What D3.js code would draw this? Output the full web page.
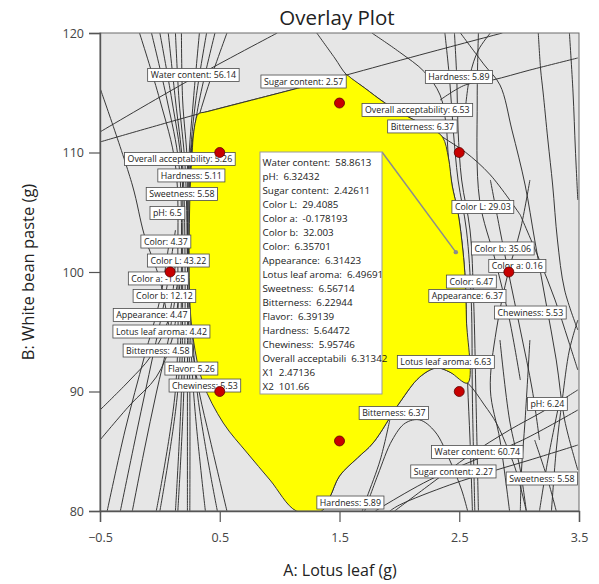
<!DOCTYPE html>
<html>
<head>
<meta charset="utf-8">
<script src="https://cdn.jsdelivr.net/npm/d3@7"></script>
<style>
  body { margin: 0; background: #fff; }
  svg { display: block; font-family: "Open Sans", "Noto Sans", sans-serif; }
</style>
</head>
<body>
<svg id="chart" width="599" height="584"></svg>
<script>
// ---- axis ticks ----
const xTicks = [-0.5, 0.5, 1.5, 2.5, 3.5];
const yTicks = [80, 90, 100, 110, 120];

// ---- design points (A: lotus leaf, B: white bean paste) ----
const designA = [0.5, 2.5, 0.5, 2.5, 0.0858, 2.9142, 1.5, 1.5, 1.5];
const designB = [90, 90, 110, 110, 100, 100, 85.86, 114.14, 100];

// ---- feasible (sweet spot) region outline, [A, B] ----
const sweetSpot = [
  [0.32,113.22],[0.40,113.43],[1.19,115.48],[1.52,116.38],[1.56,116.49],[1.60,116.2],[1.71,115.40],
  [1.88,114.14],[2.09,112.89],[2.26,112.05],
  [2.36,111.30],[2.41,109.54],[2.44,107.28],[2.49,104.94],[2.53,101.84],[2.55,99.33],
  [2.56,95.98],[2.57,90.71],[2.42,91.63],[2.31,91.97],[2.17,91.21],[2.00,89.04],
  [1.78,85.69],[1.65,84.44],[1.50,82.93],[1.42,81.17],[1.35,80],[1.14,80],
  [0.92,82.59],[0.73,84.85],[0.53,87.36],[0.36,90.71],[0.28,94.31],[0.25,97.66],
  [0.25,106.03],[0.27,110.04],[0.28,111.46],[0.30,112.7]
];

// ---- response contour traces, [A, B] ----
const contours = [
  [[-0.17,120],[0,114.39],[0.13,108.95],[0.15,101.0],[0.13,90.13],[-0.03,80]],
  [[-0.07,120],[0.06,114.39],[0.16,108.95],[0.18,101.0],[0.15,90.13],[0,80]],
  [[0,120],[0.10,114.39],[0.18,108.95],[0.19,101.0],[0.18,90.13],[0.13,80]],
  [[0.07,120],[0.13,114.39],[0.19,108.95],[0.21,101.0],[0.20,90.13],[0.15,80]],
  [[0.13,120],[0.16,114.39],[0.21,108.95],[0.23,101.0],[0.23,90.13],[0.23,80]],
  [[0.18,120],[0.19,114.39],[0.23,108.95],[0.23,101.0],[0.25,90.13],[0.25,80]],
  [[0.33,120],[0.28,114.39],[0.24,108.95],[0.24,101.0],[0.28,90.13],[0.38,80]],
  [[0.39,120],[0.30,114.39],[0.25,108.95],[0.25,101.0],[0.31,90.13],[0.48,80]],
  [[0.56,120],[0.38,114.81],[0.27,110.63],[0.25,106.03]],
  [[0.46,120],[0.33,114.39],[0.26,110.21]],
  [[0.56,80],[0.42,85.94],[0.33,89.87],[0.28,93.0]],
  [[-0.5,88.45],[-0.25,90.96],[-0.08,92.89],[0.07,95.98],[0.13,101.0]],
  [[-0.5,85.94],[-0.25,88.87],[-0.03,91.21],[0.10,94.31],[0.17,99.33]],
  [[-0.44,80],[-0.29,86.78],[-0.13,92.89],[0,97.66],[0.08,102.68]],
  [[-0.33,80],[-0.19,86.78],[-0.06,92.89],[0.04,97.66],[0.13,103.51]],
  [[-0.23,80],[-0.13,85.10],[-0.03,89.87],[0.07,94.31],[0.15,99.33]],
  [[-0.5,115.40],[-0.23,107.28],[-0.13,103.10],[0,99.33],[0.08,95.15]],
  [[-0.5,111.72],[0.25,116.07],[0.98,120]],
  [[-0.5,110.88],[0.32,113.22],[1.19,115.48],[1.56,116.49],[2.17,118.16],[2.86,120]],
  [[1.31,120],[1.46,117.91],[1.56,116.49],[1.71,115.40],[1.88,114.14],[2.09,112.89],
   [2.26,112.05],[2.36,111.30],[2.55,110.04],[2.76,108.12],[3.01,104.77]],
  [[1.77,120],[2.00,118.41],[2.21,116.74],[2.34,114.81],[2.39,112.30],[2.41,109.54],
   [2.44,107.28],[2.49,104.94],[2.53,101.84],[2.55,99.33],[2.56,95.98],[2.57,90.71],
   [2.59,85.94],[2.61,80]],
  [[2.46,120],[2.48,116.07],[2.49,111.88],[2.52,107.70],[2.59,103.51],[2.62,97.66],[2.64,89.29],[2.66,80]],
  [[2.38,120],[2.42,116.07],[2.45,111.88],[2.49,107.70],[2.56,103.51],[2.60,97.66],[2.61,89.29],[2.63,80]],
  [[2.66,120],[2.65,114.39],[2.67,106.03],[2.80,101.0],[2.92,95.98],[3.01,90.96]],
  [[2.51,120],[2.71,117.32],[2.84,115.65],[2.94,111.88],[3.05,107.28],[3.13,102.68],
   [3.22,97.66],[3.31,92.64],[3.38,87.62],[3.49,83.43]],
  [[2.76,120],[2.66,118.58],[2.59,116.49],[2.55,113.56]],
  [[2.34,114.39],[2.55,115.65],[2.78,116.07],[3.09,116.90],[3.49,117.91]],
  [[3.16,120],[3.18,116.90],[3.20,115.06],[3.24,111.05],[3.28,107.28],[3.32,102.68],[3.38,98.49],[3.49,95.15]],
  [[3.42,120],[3.45,115.06],[3.47,110.21],[3.49,106.03]],
  [[2.76,107.70],[2.84,103.51],[2.91,100.0],[3.01,95.15],[3.11,90.13],[3.17,85.94]],
  [[3.09,107.70],[3.01,103.51],[2.91,100.0],[2.81,95.15],[2.76,90.13],[2.84,85.94],[2.92,80]],
  [[3.01,104.77],[3.17,101.0],[3.30,97.66],[3.41,94.31],[3.49,91.80]],
  [[3.49,95.98],[3.42,93.47],[3.36,89.29],[3.31,85.10],[3.27,80]],
  [[1.35,80],[1.42,81.17],[1.50,82.93],[1.65,84.44],[1.78,85.69],[2.00,89.04],[2.17,91.21],
   [2.31,91.97],[2.42,91.63],[2.57,90.71],[2.71,88.87],[2.81,87.36],[2.91,85.10],[2.98,83.18],[3.06,80]],
  [[1.71,80],[1.82,83.01],[1.94,85.94],[2.05,87.36],[2.17,87.62],[2.30,86.61],[2.42,84.27],[2.52,81.76],[2.57,80]],
  [[3.49,88.45],[3.03,85.94],[2.67,84.44],[2.25,82.59],[1.88,80.50],[1.80,80]],
  [[3.49,85.52],[3.09,84.27],[2.81,83.43],[2.42,82.18],[2.00,80.50],[1.92,80]],
  [[3.49,90.13],[3.22,88.45],[2.92,86.78],[2.59,84.69],[2.25,82.18],[1.96,80]],
  [[1.92,87.62],[1.84,84.27],[1.73,81.17],[1.69,80]],
  [[2.84,94.31],[2.92,87.62],[3.01,83.43],[3.06,80]],
  [[3.09,94.31],[3.05,87.62],[3.02,83.43],[3.01,80]],
  [[3.34,89.29],[3.24,84.27],[3.17,80]],
  [[3.13,85.94],[3.24,82.59],[3.31,80]]
];

// ---- contour labels ----
const labelNames = [
  "Water content","Sugar content","Overall acceptability","Hardness","Sweetness","pH",
  "Color","Color L","Color a","Color b","Appearance","Lotus leaf aroma","Bitterness",
  "Flavor","Chewiness","Hardness","Overall acceptability","Bitterness","Color L","Color b",
  "Color a","Color","Appearance","Chewiness","Lotus leaf aroma","pH","Bitterness",
  "Water content","Sugar content","Sweetness","Hardness"
];
const labelValues = [
  "56.14","2.57","5.26","5.11","5.58","6.5","4.37","43.22","-1.65","12.12","4.47","4.42",
  "4.58","5.26","5.53","5.89","6.53","6.37","29.03","35.06","0.16","6.47","6.37","5.53",
  "6.63","6.24","6.37","60.74","2.27","5.58","5.89"
];
const labelA = [
  0.28,1.20,0.167,0.263,0.184,0.063,0.05,0.154,-0.013,0.038,-0.067,0.013,-0.017,0.263,0.376,
  2.497,2.150,2.192,2.697,2.864,2.985,2.601,2.568,3.094,2.388,3.236,1.954,2.651,2.451,3.190,1.591
];
const labelB = [
  116.49,115.94,109.46,108.08,106.53,104.94,102.55,100.96,99.46,97.99,96.40,95.02,93.43,91.92,90.50,
  116.32,113.56,112.18,105.44,101.97,100.50,99.20,97.99,96.61,92.47,88.95,88.20,84.94,83.31,82.72,80.71
];

// ---- flag readout at the selected point ----
const flagNames = [
  "Water content:","pH:","Sugar content:","Color L:","Color a:","Color b:","Color:",
  "Appearance:","Lotus leaf aroma:","Sweetness:","Bitterness:","Flavor:","Hardness:",
  "Chewiness:","Overall acceptabili","X1","X2"
];
const flagValues = [
  "58.8613","6.32432","2.42611","29.4085","-0.178193","32.003","6.35701","6.31423",
  "6.49691","6.56714","6.22944","6.39139","5.64472","5.95746","6.31342","2.47136","101.66"
];
const flagA = 2.47136, flagB = 101.66;

// ---- layout ----
const plotLeft = 100, plotRight = 579, plotTop = 33, plotBottom = 511;

const svg = d3.select("#chart");
const x = d3.scaleLinear().domain([-0.5, 3.5]).range([plotLeft, plotRight]);
const y = d3.scaleLinear().domain([80, 120]).range([plotBottom, plotTop]);

// clip to the plotting area
svg.append("defs").append("clipPath").attr("id", "plotClip")
  .append("rect").attr("x", plotLeft).attr("y", plotTop)
  .attr("width", plotRight - plotLeft).attr("height", plotBottom - plotTop);

// grey background (infeasible area)
svg.append("rect").attr("x", plotLeft).attr("y", plotTop)
  .attr("width", plotRight - plotLeft).attr("height", plotBottom - plotTop)
  .attr("fill", "#e6e6e6");

const plot = svg.append("g").attr("clip-path", "url(#plotClip)");

const line = d3.line().x(d => x(d[0])).y(d => y(d[1])).curve(d3.curveCatmullRom.alpha(0.5));

// contour lines
plot.append("g").selectAll("path").data(contours).join("path")
  .attr("d", line)
  .attr("fill", "none")
  .attr("stroke", "#2e2e2e")
  .attr("stroke-width", 0.95);

// yellow sweet-spot region
const area = d3.line().x(d => x(d[0])).y(d => y(d[1])).curve(d3.curveCatmullRomClosed.alpha(0.5));
plot.append("path").datum(sweetSpot)
  .attr("d", area)
  .attr("fill", "#ffff00")
  .attr("stroke", "#2e2e2e")
  .attr("stroke-width", 0.95);

// contour labels
const lbl = plot.append("g").attr("font-size", 8.8).attr("fill", "#1a1a1a");
labelNames.forEach((name, i) => {
  const g = lbl.append("g");
  const t = g.append("text")
    .attr("x", x(labelA[i])).attr("y", y(labelB[i]) + 3.2)
    .attr("text-anchor", "middle")
    .text(`${name}: ${labelValues[i]}`);
  const w = t.node().getComputedTextLength() + 6;
  g.insert("rect", "text")
    .attr("x", x(labelA[i]) - w / 2).attr("y", y(labelB[i]) - 6.5)
    .attr("width", w).attr("height", 13)
    .attr("fill", "#fff").attr("stroke", "#4a4a4a").attr("stroke-width", 0.8);
});

// design points (drawn over the labels)
plot.append("g").selectAll("circle").data(designA.map((a, i) => [a, designB[i]])).join("circle")
  .attr("cx", d => x(d[0])).attr("cy", d => y(d[1])).attr("r", 5)
  .attr("fill", "#c80000").attr("stroke", "#5a0000").attr("stroke-width", 0.8);

// flag connector and readout box
const boxX = 260, boxY = 152, boxW = 122, boxH = 242;
svg.append("line")
  .attr("x1", boxX + boxW).attr("y1", boxY)
  .attr("x2", x(flagA)).attr("y2", y(flagB))
  .attr("stroke", "#8c8c8c").attr("stroke-width", 1.5);
svg.append("circle").attr("cx", x(flagA)).attr("cy", y(flagB)).attr("r", 2.2).attr("fill", "#8c8c8c");
svg.append("rect").attr("x", boxX).attr("y", boxY).attr("width", boxW).attr("height", boxH)
  .attr("fill", "#fff").attr("stroke", "#9a9a9a").attr("stroke-width", 1);
const flag = svg.append("g").attr("font-size", 9.8).attr("fill", "#1a1a1a");
flagNames.forEach((n, i) => {
  flag.append("text").attr("x", boxX + 2.5).attr("y", boxY + 14 + i * 14)
    .text(`${n}\u00a0\u00a0${flagValues[i]}`);
});

// frame
svg.append("rect").attr("x", plotLeft).attr("y", plotTop)
  .attr("width", plotRight - plotLeft).attr("height", plotBottom - plotTop)
  .attr("fill", "none").attr("stroke", "#6a6a6a").attr("stroke-width", 1);

// axes
const xAxis = svg.append("g").attr("transform", `translate(0,${plotBottom})`)
  .call(d3.axisBottom(x).tickValues(xTicks).tickSize(11).tickPadding(11).tickFormat(d3.format("")));
const yAxis = svg.append("g").attr("transform", `translate(${plotLeft},0)`)
  .call(d3.axisLeft(y).tickValues(yTicks).tickSize(11).tickPadding(5).tickFormat(d3.format("")));
[xAxis, yAxis].forEach(a => {
  a.select(".domain").attr("stroke", "#555").attr("stroke-width", 1.4);
  a.selectAll(".tick line").attr("stroke", "#555").attr("stroke-width", 1.2);
  a.selectAll(".tick text").attr("fill", "#444").attr("font-size", 12.5)
    .attr("font-family", "'Open Sans', sans-serif");
});

// titles
svg.append("text").attr("x", 337).attr("y", 25).attr("text-anchor", "middle")
  .attr("font-size", 20.5).attr("fill", "#222").text("Overlay Plot");
svg.append("text").attr("x", 340).attr("y", 576).attr("text-anchor", "middle")
  .attr("font-size", 16).attr("fill", "#222").text("A: Lotus leaf (g)");
svg.append("text").attr("transform", "translate(34,272) rotate(-90)").attr("text-anchor", "middle")
  .attr("font-size", 16.5).attr("fill", "#222").text("B: White bean paste (g)");
</script>
</body>
</html>
